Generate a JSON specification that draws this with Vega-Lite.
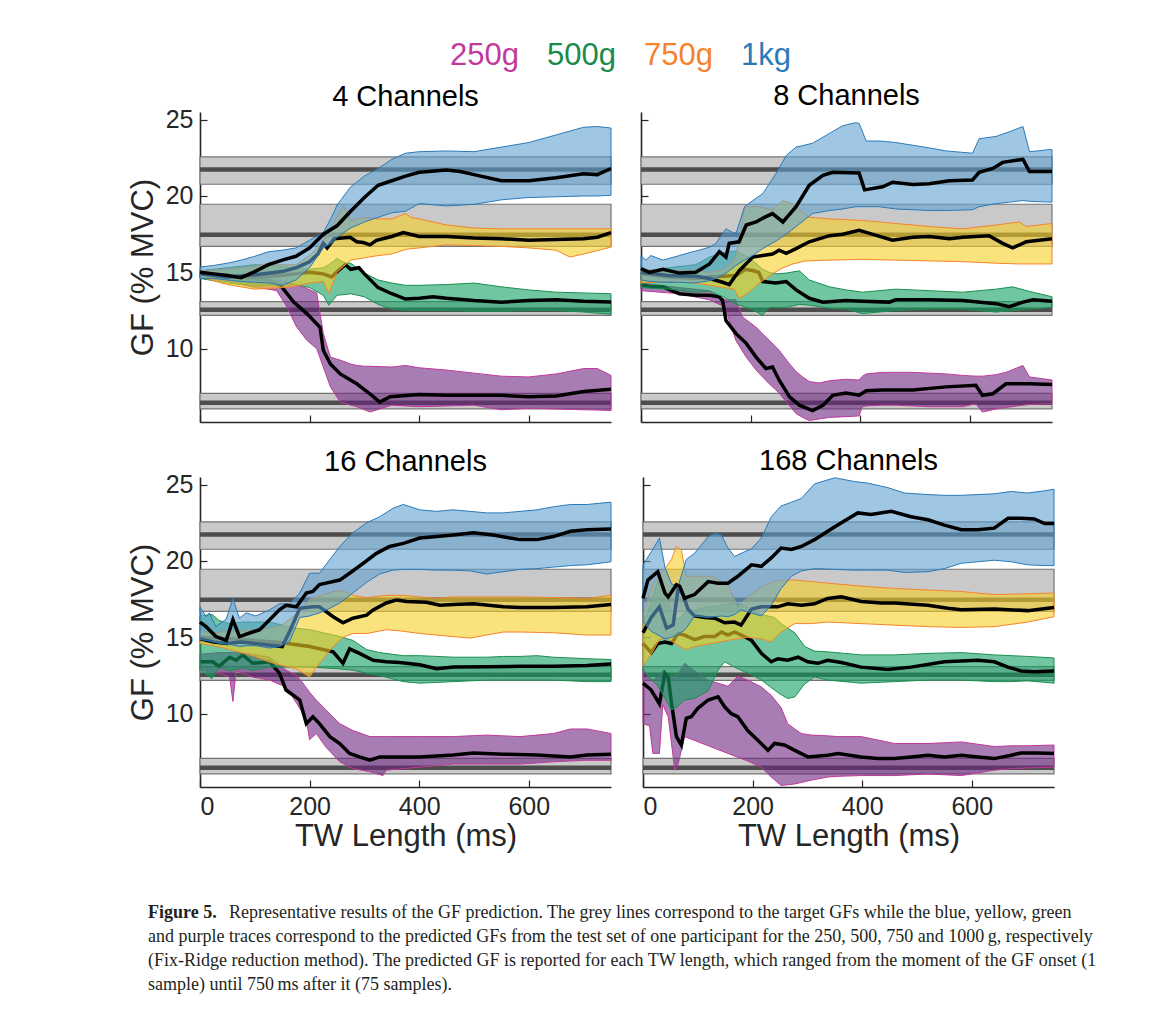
{
"$schema": "https://vega.github.io/schema/vega-lite/v6.json",
"background": "white",
"padding": {"left": 127, "top": 38, "right": 5, "bottom": 5},
"datasets": {
"tgt": [
{"w":"250g","l":6.06,"m":6.46,"h":7.08},
{"w":"500g","l":12.18,"m":12.55,"h":13.08},
{"w":"750g","l":16.7,"m":17.47,"h":19.46},
{"w":"1kg","l":20.77,"m":21.73,"h":22.56}
],
"band": [
{"p":"c4","w":"1kg","t":0,"l":14.6,"h":15.35},{"p":"c4","w":"1kg","t":25,"l":14.6,"h":15.45},{"p":"c4","w":"1kg","t":50,"l":14.5,"h":15.6},{"p":"c4","w":"1kg","t":75,"l":14.4,"h":15.8},{"p":"c4","w":"1kg","t":100,"l":14.35,"h":16.05},{"p":"c4","w":"1kg","t":125,"l":14.3,"h":16.35},{"p":"c4","w":"1kg","t":150,"l":14.15,"h":16.45},{"p":"c4","w":"1kg","t":175,"l":14.5,"h":16.6},{"p":"c4","w":"1kg","t":200,"l":15.3,"h":17.1},{"p":"c4","w":"1kg","t":225,"l":16.6,"h":17.6},{"p":"c4","w":"1kg","t":240,"l":16.9,"h":18.6},{"p":"c4","w":"1kg","t":250,"l":17.3,"h":19.4},{"p":"c4","w":"1kg","t":275,"l":17.9,"h":20.6},{"p":"c4","w":"1kg","t":300,"l":18.3,"h":21.3},{"p":"c4","w":"1kg","t":325,"l":18.6,"h":21.8},{"p":"c4","w":"1kg","t":350,"l":18.9,"h":22.4},{"p":"c4","w":"1kg","t":375,"l":19.0,"h":22.8},{"p":"c4","w":"1kg","t":400,"l":19.5,"h":22.9},{"p":"c4","w":"1kg","t":450,"l":19.35,"h":22.95},{"p":"c4","w":"1kg","t":500,"l":19.45,"h":22.9},{"p":"c4","w":"1kg","t":550,"l":19.75,"h":23.2},{"p":"c4","w":"1kg","t":600,"l":19.9,"h":23.5},{"p":"c4","w":"1kg","t":650,"l":19.95,"h":24.0},{"p":"c4","w":"1kg","t":700,"l":20.0,"h":24.5},{"p":"c4","w":"1kg","t":725,"l":20.0,"h":24.55},{"p":"c4","w":"1kg","t":750,"l":20.05,"h":24.45},
{"p":"c4","w":"750g","t":0,"l":14.7,"h":15.1},{"p":"c4","w":"750g","t":50,"l":14.2,"h":15.2},{"p":"c4","w":"750g","t":100,"l":13.9,"h":15.4},{"p":"c4","w":"750g","t":125,"l":13.95,"h":15.6},{"p":"c4","w":"750g","t":150,"l":14.0,"h":15.5},{"p":"c4","w":"750g","t":175,"l":14.1,"h":15.5},{"p":"c4","w":"750g","t":200,"l":14.3,"h":16.1},{"p":"c4","w":"750g","t":225,"l":14.4,"h":17.0},{"p":"c4","w":"750g","t":235,"l":13.6,"h":17.7},{"p":"c4","w":"750g","t":250,"l":15.0,"h":18.6},{"p":"c4","w":"750g","t":262,"l":15.4,"h":19.3},{"p":"c4","w":"750g","t":275,"l":15.8,"h":18.4},{"p":"c4","w":"750g","t":300,"l":15.95,"h":18.6},{"p":"c4","w":"750g","t":325,"l":16.1,"h":18.5},{"p":"c4","w":"750g","t":350,"l":16.2,"h":18.5},{"p":"c4","w":"750g","t":375,"l":16.5,"h":18.85},{"p":"c4","w":"750g","t":385,"l":16.55,"h":18.6},{"p":"c4","w":"750g","t":400,"l":16.6,"h":18.5},{"p":"c4","w":"750g","t":450,"l":16.8,"h":18.1},{"p":"c4","w":"750g","t":500,"l":16.75,"h":17.9},{"p":"c4","w":"750g","t":550,"l":16.7,"h":17.85},{"p":"c4","w":"750g","t":600,"l":16.6,"h":17.85},{"p":"c4","w":"750g","t":650,"l":16.45,"h":17.85},{"p":"c4","w":"750g","t":675,"l":16.0,"h":17.85},{"p":"c4","w":"750g","t":700,"l":16.2,"h":17.85},{"p":"c4","w":"750g","t":750,"l":16.65,"h":17.85},
{"p":"c4","w":"500g","t":0,"l":14.6,"h":15.1},{"p":"c4","w":"500g","t":50,"l":14.3,"h":15.3},{"p":"c4","w":"500g","t":100,"l":14.1,"h":15.5},{"p":"c4","w":"500g","t":150,"l":14.2,"h":15.4},{"p":"c4","w":"500g","t":175,"l":14.2,"h":15.3},{"p":"c4","w":"500g","t":200,"l":14.0,"h":15.2},{"p":"c4","w":"500g","t":225,"l":13.5,"h":15.3},{"p":"c4","w":"500g","t":235,"l":12.85,"h":15.5},{"p":"c4","w":"500g","t":250,"l":13.5,"h":15.9},{"p":"c4","w":"500g","t":265,"l":13.55,"h":15.6},{"p":"c4","w":"500g","t":275,"l":13.6,"h":15.6},{"p":"c4","w":"500g","t":300,"l":13.4,"h":14.95},{"p":"c4","w":"500g","t":325,"l":12.9,"h":14.5},{"p":"c4","w":"500g","t":350,"l":12.6,"h":14.3},{"p":"c4","w":"500g","t":375,"l":12.5,"h":14.15},{"p":"c4","w":"500g","t":400,"l":12.5,"h":14.15},{"p":"c4","w":"500g","t":450,"l":12.5,"h":14.2},{"p":"c4","w":"500g","t":500,"l":12.45,"h":14.3},{"p":"c4","w":"500g","t":550,"l":12.45,"h":14.05},{"p":"c4","w":"500g","t":600,"l":12.5,"h":13.85},{"p":"c4","w":"500g","t":650,"l":12.5,"h":13.7},{"p":"c4","w":"500g","t":700,"l":12.4,"h":13.65},{"p":"c4","w":"500g","t":750,"l":12.25,"h":13.6},
{"p":"c4","w":"250g","t":0,"l":14.7,"h":15.0},{"p":"c4","w":"250g","t":50,"l":14.4,"h":14.8},{"p":"c4","w":"250g","t":100,"l":14.0,"h":14.6},{"p":"c4","w":"250g","t":125,"l":13.9,"h":14.55},{"p":"c4","w":"250g","t":140,"l":13.8,"h":14.5},{"p":"c4","w":"250g","t":160,"l":12.65,"h":14.35},{"p":"c4","w":"250g","t":175,"l":11.5,"h":14.2},{"p":"c4","w":"250g","t":195,"l":10.55,"h":13.95},{"p":"c4","w":"250g","t":213,"l":10.0,"h":13.65},{"p":"c4","w":"250g","t":225,"l":8.8,"h":11.0},{"p":"c4","w":"250g","t":238,"l":7.5,"h":9.45},{"p":"c4","w":"250g","t":256,"l":6.5,"h":9.25},{"p":"c4","w":"250g","t":275,"l":6.3,"h":9.0},{"p":"c4","w":"250g","t":286,"l":6.2,"h":8.9},{"p":"c4","w":"250g","t":300,"l":6.0,"h":8.85},{"p":"c4","w":"250g","t":310,"l":5.85,"h":8.85},{"p":"c4","w":"250g","t":350,"l":6.3,"h":8.8},{"p":"c4","w":"250g","t":375,"l":6.25,"h":8.9},{"p":"c4","w":"250g","t":400,"l":6.2,"h":8.75},{"p":"c4","w":"250g","t":450,"l":6.25,"h":8.6},{"p":"c4","w":"250g","t":500,"l":6.3,"h":8.4},{"p":"c4","w":"250g","t":550,"l":6.0,"h":8.2},{"p":"c4","w":"250g","t":600,"l":6.1,"h":8.15},{"p":"c4","w":"250g","t":650,"l":6.05,"h":8.35},{"p":"c4","w":"250g","t":700,"l":6.0,"h":8.7},{"p":"c4","w":"250g","t":725,"l":5.98,"h":8.7},{"p":"c4","w":"250g","t":750,"l":5.95,"h":8.25},
{"p":"c8","w":"1kg","t":0,"l":14.5,"h":16.1},{"p":"c8","w":"1kg","t":9,"l":14.45,"h":15.8},{"p":"c8","w":"1kg","t":18,"l":14.4,"h":16.1},{"p":"c8","w":"1kg","t":40,"l":14.35,"h":15.8},{"p":"c8","w":"1kg","t":70,"l":14.35,"h":16.1},{"p":"c8","w":"1kg","t":94,"l":14.3,"h":16.35},{"p":"c8","w":"1kg","t":106,"l":14.35,"h":16.45},{"p":"c8","w":"1kg","t":125,"l":14.45,"h":16.65},{"p":"c8","w":"1kg","t":137,"l":14.6,"h":16.9},{"p":"c8","w":"1kg","t":155,"l":14.95,"h":17.85},{"p":"c8","w":"1kg","t":173,"l":15.45,"h":17.5},{"p":"c8","w":"1kg","t":189,"l":15.8,"h":19.3},{"p":"c8","w":"1kg","t":204,"l":16.1,"h":19.7},{"p":"c8","w":"1kg","t":222,"l":16.55,"h":20.15},{"p":"c8","w":"1kg","t":246,"l":17.05,"h":21.45},{"p":"c8","w":"1kg","t":265,"l":17.5,"h":22.65},{"p":"c8","w":"1kg","t":283,"l":18.0,"h":23.2},{"p":"c8","w":"1kg","t":313,"l":18.85,"h":23.45},{"p":"c8","w":"1kg","t":344,"l":19.05,"h":24.1},{"p":"c8","w":"1kg","t":368,"l":19.15,"h":24.6},{"p":"c8","w":"1kg","t":392,"l":19.3,"h":24.8},{"p":"c8","w":"1kg","t":398,"l":19.3,"h":24.75},{"p":"c8","w":"1kg","t":411,"l":19.3,"h":23.6},{"p":"c8","w":"1kg","t":435,"l":19.3,"h":23.6},{"p":"c8","w":"1kg","t":465,"l":19.15,"h":23.5},{"p":"c8","w":"1kg","t":526,"l":19.05,"h":23.15},{"p":"c8","w":"1kg","t":557,"l":19.05,"h":22.95},{"p":"c8","w":"1kg","t":605,"l":19.1,"h":22.8},{"p":"c8","w":"1kg","t":617,"l":19.3,"h":23.75},{"p":"c8","w":"1kg","t":648,"l":19.5,"h":23.9},{"p":"c8","w":"1kg","t":672,"l":19.6,"h":24.2},{"p":"c8","w":"1kg","t":697,"l":19.7,"h":24.55},{"p":"c8","w":"1kg","t":709,"l":19.65,"h":22.9},{"p":"c8","w":"1kg","t":750,"l":19.6,"h":23.05},
{"p":"c8","w":"750g","t":0,"l":14.3,"h":15.2},{"p":"c8","w":"750g","t":50,"l":14.4,"h":15.1},{"p":"c8","w":"750g","t":100,"l":14.3,"h":15.1},{"p":"c8","w":"750g","t":125,"l":14.15,"h":15.0},{"p":"c8","w":"750g","t":150,"l":14.0,"h":15.2},{"p":"c8","w":"750g","t":170,"l":13.9,"h":15.8},{"p":"c8","w":"750g","t":179,"l":13.3,"h":16.9},{"p":"c8","w":"750g","t":189,"l":13.5,"h":19.3},{"p":"c8","w":"750g","t":200,"l":13.8,"h":19.3},{"p":"c8","w":"750g","t":216,"l":14.3,"h":19.3},{"p":"c8","w":"750g","t":240,"l":14.9,"h":19.1},{"p":"c8","w":"750g","t":259,"l":15.3,"h":19.7},{"p":"c8","w":"750g","t":277,"l":15.55,"h":19.5},{"p":"c8","w":"750g","t":300,"l":15.75,"h":18.8},{"p":"c8","w":"750g","t":307,"l":15.75,"h":18.6},{"p":"c8","w":"750g","t":344,"l":15.8,"h":18.5},{"p":"c8","w":"750g","t":404,"l":15.85,"h":18.4},{"p":"c8","w":"750g","t":465,"l":15.8,"h":18.2},{"p":"c8","w":"750g","t":526,"l":15.75,"h":18.0},{"p":"c8","w":"750g","t":587,"l":15.7,"h":17.85},{"p":"c8","w":"750g","t":648,"l":15.6,"h":18.1},{"p":"c8","w":"750g","t":690,"l":15.55,"h":18.3},{"p":"c8","w":"750g","t":703,"l":15.55,"h":18.0},{"p":"c8","w":"750g","t":750,"l":15.55,"h":18.2},
{"p":"c8","w":"500g","t":0,"l":14.0,"h":15.0},{"p":"c8","w":"500g","t":50,"l":13.9,"h":15.3},{"p":"c8","w":"500g","t":100,"l":13.7,"h":15.5},{"p":"c8","w":"500g","t":125,"l":13.75,"h":16.0},{"p":"c8","w":"500g","t":150,"l":13.4,"h":16.3},{"p":"c8","w":"500g","t":175,"l":12.9,"h":16.4},{"p":"c8","w":"500g","t":200,"l":12.6,"h":15.9},{"p":"c8","w":"500g","t":222,"l":12.2,"h":15.2},{"p":"c8","w":"500g","t":234,"l":12.7,"h":15.0},{"p":"c8","w":"500g","t":246,"l":12.7,"h":14.9},{"p":"c8","w":"500g","t":265,"l":12.7,"h":14.95},{"p":"c8","w":"500g","t":289,"l":12.9,"h":15.1},{"p":"c8","w":"500g","t":307,"l":12.85,"h":14.5},{"p":"c8","w":"500g","t":344,"l":12.65,"h":14.05},{"p":"c8","w":"500g","t":374,"l":12.6,"h":13.85},{"p":"c8","w":"500g","t":404,"l":12.3,"h":13.7},{"p":"c8","w":"500g","t":465,"l":12.5,"h":13.9},{"p":"c8","w":"500g","t":526,"l":12.6,"h":13.8},{"p":"c8","w":"500g","t":587,"l":12.6,"h":13.7},{"p":"c8","w":"500g","t":648,"l":12.4,"h":13.9},{"p":"c8","w":"500g","t":678,"l":12.5,"h":14.05},{"p":"c8","w":"500g","t":709,"l":12.6,"h":13.75},{"p":"c8","w":"500g","t":750,"l":12.7,"h":13.4},
{"p":"c8","w":"250g","t":0,"l":13.8,"h":14.3},{"p":"c8","w":"250g","t":70,"l":13.6,"h":14.0},{"p":"c8","w":"250g","t":125,"l":13.2,"h":13.8},{"p":"c8","w":"250g","t":149,"l":12.8,"h":13.3},{"p":"c8","w":"250g","t":155,"l":12.5,"h":13.2},{"p":"c8","w":"250g","t":173,"l":10.55,"h":13.2},{"p":"c8","w":"250g","t":185,"l":9.85,"h":12.1},{"p":"c8","w":"250g","t":192,"l":9.45,"h":11.9},{"p":"c8","w":"250g","t":210,"l":8.6,"h":11.4},{"p":"c8","w":"250g","t":234,"l":7.7,"h":10.55},{"p":"c8","w":"250g","t":252,"l":7.1,"h":9.9},{"p":"c8","w":"250g","t":270,"l":6.3,"h":9.05},{"p":"c8","w":"250g","t":283,"l":5.75,"h":8.5},{"p":"c8","w":"250g","t":295,"l":5.5,"h":8.15},{"p":"c8","w":"250g","t":307,"l":5.3,"h":7.85},{"p":"c8","w":"250g","t":325,"l":5.4,"h":7.75},{"p":"c8","w":"250g","t":344,"l":5.5,"h":7.9},{"p":"c8","w":"250g","t":374,"l":5.55,"h":8.0},{"p":"c8","w":"250g","t":398,"l":5.6,"h":7.95},{"p":"c8","w":"250g","t":404,"l":6.2,"h":8.2},{"p":"c8","w":"250g","t":411,"l":6.25,"h":8.35},{"p":"c8","w":"250g","t":441,"l":6.3,"h":8.45},{"p":"c8","w":"250g","t":465,"l":6.3,"h":8.45},{"p":"c8","w":"250g","t":496,"l":6.25,"h":8.45},{"p":"c8","w":"250g","t":526,"l":6.2,"h":8.4},{"p":"c8","w":"250g","t":557,"l":6.2,"h":8.35},{"p":"c8","w":"250g","t":587,"l":6.2,"h":8.25},{"p":"c8","w":"250g","t":611,"l":6.4,"h":8.2},{"p":"c8","w":"250g","t":623,"l":5.85,"h":8.2},{"p":"c8","w":"250g","t":648,"l":6.05,"h":8.3},{"p":"c8","w":"250g","t":666,"l":6.15,"h":8.45},{"p":"c8","w":"250g","t":697,"l":6.3,"h":8.9},{"p":"c8","w":"250g","t":709,"l":6.35,"h":8.15},{"p":"c8","w":"250g","t":750,"l":6.4,"h":7.95},
{"p":"c16","w":"1kg","t":0,"l":14.85,"h":17.0},{"p":"c16","w":"1kg","t":11,"l":14.8,"h":16.35},{"p":"c16","w":"1kg","t":17,"l":14.75,"h":16.6},{"p":"c16","w":"1kg","t":29,"l":14.65,"h":15.7},{"p":"c16","w":"1kg","t":48,"l":14.55,"h":16.2},{"p":"c16","w":"1kg","t":60,"l":14.5,"h":17.55},{"p":"c16","w":"1kg","t":72,"l":14.4,"h":16.25},{"p":"c16","w":"1kg","t":84,"l":14.45,"h":16.6},{"p":"c16","w":"1kg","t":102,"l":14.45,"h":16.4},{"p":"c16","w":"1kg","t":127,"l":14.3,"h":16.8},{"p":"c16","w":"1kg","t":145,"l":14.4,"h":17.2},{"p":"c16","w":"1kg","t":163,"l":14.7,"h":17.2},{"p":"c16","w":"1kg","t":182,"l":16.3,"h":17.9},{"p":"c16","w":"1kg","t":200,"l":16.4,"h":19.2},{"p":"c16","w":"1kg","t":218,"l":16.6,"h":19.2},{"p":"c16","w":"1kg","t":237,"l":16.9,"h":20.1},{"p":"c16","w":"1kg","t":255,"l":17.25,"h":20.95},{"p":"c16","w":"1kg","t":279,"l":17.9,"h":21.85},{"p":"c16","w":"1kg","t":304,"l":18.6,"h":22.5},{"p":"c16","w":"1kg","t":328,"l":19.15,"h":22.9},{"p":"c16","w":"1kg","t":352,"l":19.4,"h":23.45},{"p":"c16","w":"1kg","t":371,"l":19.45,"h":23.7},{"p":"c16","w":"1kg","t":401,"l":19.45,"h":23.35},{"p":"c16","w":"1kg","t":432,"l":19.4,"h":23.25},{"p":"c16","w":"1kg","t":462,"l":19.4,"h":23.35},{"p":"c16","w":"1kg","t":493,"l":19.35,"h":23.25},{"p":"c16","w":"1kg","t":523,"l":19.15,"h":23.15},{"p":"c16","w":"1kg","t":554,"l":19.3,"h":23.15},{"p":"c16","w":"1kg","t":584,"l":19.45,"h":23.25},{"p":"c16","w":"1kg","t":615,"l":19.5,"h":23.35},{"p":"c16","w":"1kg","t":645,"l":19.6,"h":23.55},{"p":"c16","w":"1kg","t":676,"l":19.7,"h":23.7},{"p":"c16","w":"1kg","t":706,"l":19.75,"h":23.7},{"p":"c16","w":"1kg","t":750,"l":19.95,"h":23.85},
{"p":"c16","w":"750g","t":0,"l":14.6,"h":15.4},{"p":"c16","w":"750g","t":25,"l":14.45,"h":15.3},{"p":"c16","w":"750g","t":50,"l":14.25,"h":15.4},{"p":"c16","w":"750g","t":75,"l":14.0,"h":15.4},{"p":"c16","w":"750g","t":100,"l":13.75,"h":15.5},{"p":"c16","w":"750g","t":125,"l":13.4,"h":15.6},{"p":"c16","w":"750g","t":150,"l":13.15,"h":15.8},{"p":"c16","w":"750g","t":175,"l":12.95,"h":16.5},{"p":"c16","w":"750g","t":200,"l":12.4,"h":17.5},{"p":"c16","w":"750g","t":218,"l":13.3,"h":17.7},{"p":"c16","w":"750g","t":243,"l":14.4,"h":18.0},{"p":"c16","w":"750g","t":261,"l":15.0,"h":18.05},{"p":"c16","w":"750g","t":279,"l":15.25,"h":17.75},{"p":"c16","w":"750g","t":304,"l":15.25,"h":17.6},{"p":"c16","w":"750g","t":340,"l":15.5,"h":17.75},{"p":"c16","w":"750g","t":371,"l":15.4,"h":17.75},{"p":"c16","w":"750g","t":401,"l":15.25,"h":17.65},{"p":"c16","w":"750g","t":432,"l":15.15,"h":17.55},{"p":"c16","w":"750g","t":462,"l":15.05,"h":17.65},{"p":"c16","w":"750g","t":493,"l":14.95,"h":17.65},{"p":"c16","w":"750g","t":523,"l":15.15,"h":17.65},{"p":"c16","w":"750g","t":554,"l":15.35,"h":17.65},{"p":"c16","w":"750g","t":584,"l":15.35,"h":17.65},{"p":"c16","w":"750g","t":645,"l":15.3,"h":17.6},{"p":"c16","w":"750g","t":706,"l":15.15,"h":17.55},{"p":"c16","w":"750g","t":750,"l":15.15,"h":17.75},
{"p":"c16","w":"500g","t":0,"l":12.85,"h":16.4},{"p":"c16","w":"500g","t":22,"l":12.3,"h":16.5},{"p":"c16","w":"500g","t":35,"l":13.05,"h":16.1},{"p":"c16","w":"500g","t":54,"l":12.8,"h":15.9},{"p":"c16","w":"500g","t":78,"l":13.0,"h":16.0},{"p":"c16","w":"500g","t":96,"l":12.85,"h":16.0},{"p":"c16","w":"500g","t":127,"l":13.05,"h":16.0},{"p":"c16","w":"500g","t":157,"l":13.05,"h":15.75},{"p":"c16","w":"500g","t":175,"l":13.05,"h":15.6},{"p":"c16","w":"500g","t":200,"l":13.05,"h":15.5},{"p":"c16","w":"500g","t":225,"l":13.0,"h":15.3},{"p":"c16","w":"500g","t":250,"l":12.95,"h":15.1},{"p":"c16","w":"500g","t":279,"l":12.85,"h":14.8},{"p":"c16","w":"500g","t":304,"l":12.65,"h":14.2},{"p":"c16","w":"500g","t":328,"l":12.5,"h":14.0},{"p":"c16","w":"500g","t":371,"l":12.1,"h":13.8},{"p":"c16","w":"500g","t":401,"l":12.0,"h":13.8},{"p":"c16","w":"500g","t":432,"l":12.05,"h":13.75},{"p":"c16","w":"500g","t":462,"l":12.1,"h":13.7},{"p":"c16","w":"500g","t":493,"l":12.15,"h":13.7},{"p":"c16","w":"500g","t":523,"l":12.2,"h":13.7},{"p":"c16","w":"500g","t":554,"l":12.2,"h":13.75},{"p":"c16","w":"500g","t":584,"l":12.2,"h":13.75},{"p":"c16","w":"500g","t":615,"l":12.2,"h":13.8},{"p":"c16","w":"500g","t":645,"l":12.2,"h":13.7},{"p":"c16","w":"500g","t":676,"l":12.15,"h":13.65},{"p":"c16","w":"500g","t":706,"l":12.1,"h":13.6},{"p":"c16","w":"500g","t":750,"l":12.1,"h":13.55},
{"p":"c16","w":"250g","t":0,"l":12.85,"h":13.9},{"p":"c16","w":"250g","t":35,"l":12.65,"h":14.0},{"p":"c16","w":"250g","t":54,"l":12.4,"h":14.0},{"p":"c16","w":"250g","t":60,"l":10.8,"h":14.0},{"p":"c16","w":"250g","t":66,"l":12.8,"h":14.0},{"p":"c16","w":"250g","t":96,"l":12.4,"h":13.9},{"p":"c16","w":"250g","t":127,"l":12.2,"h":13.7},{"p":"c16","w":"250g","t":157,"l":11.75,"h":12.85},{"p":"c16","w":"250g","t":176,"l":10.7,"h":12.5},{"p":"c16","w":"250g","t":188,"l":10.0,"h":12.0},{"p":"c16","w":"250g","t":194,"l":9.6,"h":11.7},{"p":"c16","w":"250g","t":200,"l":8.3,"h":11.4},{"p":"c16","w":"250g","t":212,"l":8.7,"h":10.9},{"p":"c16","w":"250g","t":230,"l":7.8,"h":10.25},{"p":"c16","w":"250g","t":255,"l":6.85,"h":9.35},{"p":"c16","w":"250g","t":279,"l":6.4,"h":8.9},{"p":"c16","w":"250g","t":310,"l":6.2,"h":8.5},{"p":"c16","w":"250g","t":334,"l":5.95,"h":8.5},{"p":"c16","w":"250g","t":340,"l":6.3,"h":8.5},{"p":"c16","w":"250g","t":401,"l":6.5,"h":8.5},{"p":"c16","w":"250g","t":462,"l":6.7,"h":8.5},{"p":"c16","w":"250g","t":523,"l":6.7,"h":8.6},{"p":"c16","w":"250g","t":584,"l":6.7,"h":8.5},{"p":"c16","w":"250g","t":645,"l":6.85,"h":8.7},{"p":"c16","w":"250g","t":676,"l":6.9,"h":9.0},{"p":"c16","w":"250g","t":706,"l":6.95,"h":9.0},{"p":"c16","w":"250g","t":750,"l":6.95,"h":8.7},
{"p":"c168","w":"1kg","t":0,"l":16.0,"h":19.75},{"p":"c168","w":"1kg","t":15,"l":15.4,"h":20.6},{"p":"c168","w":"1kg","t":30,"l":15.1,"h":21.5},{"p":"c168","w":"1kg","t":40,"l":14.9,"h":19.6},{"p":"c168","w":"1kg","t":52,"l":15.0,"h":18.5},{"p":"c168","w":"1kg","t":64,"l":15.2,"h":18.35},{"p":"c168","w":"1kg","t":73,"l":15.4,"h":19.4},{"p":"c168","w":"1kg","t":79,"l":15.6,"h":20.1},{"p":"c168","w":"1kg","t":94,"l":16.4,"h":20.5},{"p":"c168","w":"1kg","t":119,"l":16.3,"h":21.6},{"p":"c168","w":"1kg","t":131,"l":16.35,"h":21.8},{"p":"c168","w":"1kg","t":143,"l":16.4,"h":21.7},{"p":"c168","w":"1kg","t":155,"l":16.35,"h":20.85},{"p":"c168","w":"1kg","t":167,"l":16.5,"h":20.3},{"p":"c168","w":"1kg","t":179,"l":16.8,"h":20.5},{"p":"c168","w":"1kg","t":198,"l":16.6,"h":20.8},{"p":"c168","w":"1kg","t":216,"l":16.4,"h":21.5},{"p":"c168","w":"1kg","t":234,"l":17.1,"h":22.9},{"p":"c168","w":"1kg","t":252,"l":18.2,"h":23.6},{"p":"c168","w":"1kg","t":271,"l":19.0,"h":23.85},{"p":"c168","w":"1kg","t":289,"l":19.35,"h":24.1},{"p":"c168","w":"1kg","t":313,"l":19.5,"h":25.05},{"p":"c168","w":"1kg","t":350,"l":19.45,"h":25.45},{"p":"c168","w":"1kg","t":386,"l":19.4,"h":25.2},{"p":"c168","w":"1kg","t":410,"l":19.4,"h":25.1},{"p":"c168","w":"1kg","t":447,"l":19.4,"h":24.8},{"p":"c168","w":"1kg","t":477,"l":19.25,"h":24.45},{"p":"c168","w":"1kg","t":520,"l":19.3,"h":24.35},{"p":"c168","w":"1kg","t":550,"l":19.5,"h":24.3},{"p":"c168","w":"1kg","t":581,"l":19.85,"h":24.3},{"p":"c168","w":"1kg","t":611,"l":19.95,"h":24.35},{"p":"c168","w":"1kg","t":641,"l":20.05,"h":24.4},{"p":"c168","w":"1kg","t":672,"l":19.95,"h":24.55},{"p":"c168","w":"1kg","t":702,"l":19.75,"h":24.45},{"p":"c168","w":"1kg","t":733,"l":19.7,"h":24.6},{"p":"c168","w":"1kg","t":750,"l":19.7,"h":24.7},
{"p":"c168","w":"750g","t":0,"l":13.1,"h":16.6},{"p":"c168","w":"750g","t":15,"l":13.9,"h":18.3},{"p":"c168","w":"750g","t":30,"l":14.85,"h":19.1},{"p":"c168","w":"750g","t":40,"l":15.0,"h":19.5},{"p":"c168","w":"750g","t":52,"l":14.75,"h":20.1},{"p":"c168","w":"750g","t":61,"l":14.55,"h":20.95},{"p":"c168","w":"750g","t":70,"l":14.35,"h":20.7},{"p":"c168","w":"750g","t":79,"l":14.2,"h":19.0},{"p":"c168","w":"750g","t":94,"l":14.4,"h":19.0},{"p":"c168","w":"750g","t":125,"l":14.6,"h":19.0},{"p":"c168","w":"750g","t":155,"l":14.8,"h":18.45},{"p":"c168","w":"750g","t":173,"l":14.9,"h":17.0},{"p":"c168","w":"750g","t":191,"l":15.0,"h":17.65},{"p":"c168","w":"750g","t":216,"l":14.9,"h":18.3},{"p":"c168","w":"750g","t":234,"l":14.7,"h":18.6},{"p":"c168","w":"750g","t":252,"l":15.35,"h":18.75},{"p":"c168","w":"750g","t":277,"l":15.9,"h":18.75},{"p":"c168","w":"750g","t":307,"l":15.9,"h":18.65},{"p":"c168","w":"750g","t":337,"l":16.0,"h":18.55},{"p":"c168","w":"750g","t":368,"l":15.95,"h":18.45},{"p":"c168","w":"750g","t":398,"l":15.9,"h":18.35},{"p":"c168","w":"750g","t":459,"l":15.8,"h":18.2},{"p":"c168","w":"750g","t":520,"l":15.7,"h":18.1},{"p":"c168","w":"750g","t":581,"l":15.65,"h":18.0},{"p":"c168","w":"750g","t":641,"l":15.7,"h":17.8},{"p":"c168","w":"750g","t":702,"l":16.0,"h":17.85},{"p":"c168","w":"750g","t":750,"l":16.35,"h":17.9},
{"p":"c168","w":"500g","t":0,"l":12.85,"h":16.0},{"p":"c168","w":"500g","t":15,"l":12.2,"h":17.2},{"p":"c168","w":"500g","t":27,"l":11.85,"h":18.7},{"p":"c168","w":"500g","t":40,"l":11.0,"h":18.0},{"p":"c168","w":"500g","t":52,"l":10.25,"h":16.6},{"p":"c168","w":"500g","t":64,"l":10.5,"h":16.2},{"p":"c168","w":"500g","t":76,"l":10.9,"h":16.6},{"p":"c168","w":"500g","t":94,"l":11.0,"h":16.8},{"p":"c168","w":"500g","t":119,"l":11.5,"h":17.0},{"p":"c168","w":"500g","t":137,"l":12.85,"h":17.05},{"p":"c168","w":"500g","t":149,"l":13.4,"h":17.15},{"p":"c168","w":"500g","t":167,"l":13.05,"h":17.25},{"p":"c168","w":"500g","t":185,"l":12.75,"h":17.1},{"p":"c168","w":"500g","t":198,"l":12.55,"h":16.8},{"p":"c168","w":"500g","t":216,"l":12.2,"h":16.5},{"p":"c168","w":"500g","t":240,"l":11.55,"h":16.3},{"p":"c168","w":"500g","t":252,"l":11.25,"h":15.9},{"p":"c168","w":"500g","t":264,"l":11.0,"h":15.6},{"p":"c168","w":"500g","t":277,"l":11.1,"h":15.3},{"p":"c168","w":"500g","t":295,"l":11.95,"h":14.4},{"p":"c168","w":"500g","t":313,"l":12.4,"h":14.1},{"p":"c168","w":"500g","t":337,"l":12.2,"h":14.05},{"p":"c168","w":"500g","t":368,"l":12.1,"h":13.95},{"p":"c168","w":"500g","t":398,"l":12.0,"h":13.85},{"p":"c168","w":"500g","t":459,"l":12.1,"h":13.85},{"p":"c168","w":"500g","t":520,"l":12.2,"h":13.95},{"p":"c168","w":"500g","t":581,"l":12.2,"h":14.0},{"p":"c168","w":"500g","t":641,"l":12.1,"h":13.85},{"p":"c168","w":"500g","t":672,"l":12.1,"h":13.8},{"p":"c168","w":"500g","t":702,"l":12.15,"h":13.75},{"p":"c168","w":"500g","t":750,"l":12.0,"h":13.65},
{"p":"c168","w":"250g","t":0,"l":9.35,"h":12.9},{"p":"c168","w":"250g","t":12,"l":9.2,"h":12.3},{"p":"c168","w":"250g","t":18,"l":7.4,"h":12.2},{"p":"c168","w":"250g","t":30,"l":7.4,"h":12.5},{"p":"c168","w":"250g","t":36,"l":10.6,"h":12.8},{"p":"c168","w":"250g","t":46,"l":9.8,"h":12.5},{"p":"c168","w":"250g","t":58,"l":6.3,"h":12.3},{"p":"c168","w":"250g","t":64,"l":6.7,"h":12.6},{"p":"c168","w":"250g","t":76,"l":8.5,"h":13.3},{"p":"c168","w":"250g","t":94,"l":8.25,"h":12.8},{"p":"c168","w":"250g","t":119,"l":7.9,"h":12.2},{"p":"c168","w":"250g","t":137,"l":7.65,"h":12.0},{"p":"c168","w":"250g","t":155,"l":7.4,"h":11.8},{"p":"c168","w":"250g","t":173,"l":7.15,"h":12.45},{"p":"c168","w":"250g","t":191,"l":6.9,"h":12.2},{"p":"c168","w":"250g","t":216,"l":6.5,"h":11.75},{"p":"c168","w":"250g","t":234,"l":5.85,"h":11.2},{"p":"c168","w":"250g","t":252,"l":5.3,"h":10.4},{"p":"c168","w":"250g","t":264,"l":5.35,"h":9.35},{"p":"c168","w":"250g","t":277,"l":5.4,"h":9.0},{"p":"c168","w":"250g","t":289,"l":5.5,"h":8.7},{"p":"c168","w":"250g","t":307,"l":5.65,"h":8.6},{"p":"c168","w":"250g","t":337,"l":5.85,"h":8.55},{"p":"c168","w":"250g","t":356,"l":5.9,"h":8.5},{"p":"c168","w":"250g","t":398,"l":5.95,"h":8.5},{"p":"c168","w":"250g","t":459,"l":5.95,"h":8.05},{"p":"c168","w":"250g","t":520,"l":6.05,"h":8.05},{"p":"c168","w":"250g","t":581,"l":5.95,"h":8.15},{"p":"c168","w":"250g","t":641,"l":6.3,"h":7.85},{"p":"c168","w":"250g","t":672,"l":6.4,"h":7.9},{"p":"c168","w":"250g","t":702,"l":6.45,"h":7.9},{"p":"c168","w":"250g","t":750,"l":6.5,"h":7.95}
],
"mean": [
{"p":"c4","w":"1kg","t":0,"m":15.0},{"p":"c4","w":"1kg","t":25,"m":14.9},{"p":"c4","w":"1kg","t":50,"m":14.8},{"p":"c4","w":"1kg","t":75,"m":14.65},{"p":"c4","w":"1kg","t":100,"m":15.05},{"p":"c4","w":"1kg","t":125,"m":15.5},{"p":"c4","w":"1kg","t":150,"m":15.8},{"p":"c4","w":"1kg","t":175,"m":16.05},{"p":"c4","w":"1kg","t":200,"m":16.6},{"p":"c4","w":"1kg","t":225,"m":17.5},{"p":"c4","w":"1kg","t":250,"m":18.05},{"p":"c4","w":"1kg","t":275,"m":19.0},{"p":"c4","w":"1kg","t":300,"m":19.9},{"p":"c4","w":"1kg","t":325,"m":20.7},{"p":"c4","w":"1kg","t":350,"m":21.0},{"p":"c4","w":"1kg","t":375,"m":21.3},{"p":"c4","w":"1kg","t":400,"m":21.55},{"p":"c4","w":"1kg","t":450,"m":21.7},{"p":"c4","w":"1kg","t":475,"m":21.6},{"p":"c4","w":"1kg","t":500,"m":21.4},{"p":"c4","w":"1kg","t":550,"m":21.0},{"p":"c4","w":"1kg","t":600,"m":21.0},{"p":"c4","w":"1kg","t":650,"m":21.2},{"p":"c4","w":"1kg","t":700,"m":21.45},{"p":"c4","w":"1kg","t":725,"m":21.4},{"p":"c4","w":"1kg","t":750,"m":21.8},
{"p":"c4","w":"750g","t":0,"m":14.9},{"p":"c4","w":"750g","t":50,"m":14.7},{"p":"c4","w":"750g","t":100,"m":14.85},{"p":"c4","w":"750g","t":150,"m":15.05},{"p":"c4","w":"750g","t":175,"m":15.3},{"p":"c4","w":"750g","t":200,"m":15.7},{"p":"c4","w":"750g","t":215,"m":16.2},{"p":"c4","w":"750g","t":225,"m":16.9},{"p":"c4","w":"750g","t":232,"m":16.6},{"p":"c4","w":"750g","t":245,"m":17.2},{"p":"c4","w":"750g","t":274,"m":17.3},{"p":"c4","w":"750g","t":286,"m":17.0},{"p":"c4","w":"750g","t":298,"m":16.95},{"p":"c4","w":"750g","t":310,"m":16.8},{"p":"c4","w":"750g","t":322,"m":17.1},{"p":"c4","w":"750g","t":350,"m":17.35},{"p":"c4","w":"750g","t":371,"m":17.6},{"p":"c4","w":"750g","t":400,"m":17.35},{"p":"c4","w":"750g","t":450,"m":17.35},{"p":"c4","w":"750g","t":500,"m":17.25},{"p":"c4","w":"750g","t":550,"m":17.2},{"p":"c4","w":"750g","t":600,"m":17.1},{"p":"c4","w":"750g","t":650,"m":17.15},{"p":"c4","w":"750g","t":700,"m":17.2},{"p":"c4","w":"750g","t":725,"m":17.3},{"p":"c4","w":"750g","t":750,"m":17.6},
{"p":"c4","w":"500g","t":0,"m":14.9},{"p":"c4","w":"500g","t":50,"m":14.7},{"p":"c4","w":"500g","t":100,"m":14.7},{"p":"c4","w":"500g","t":150,"m":14.8},{"p":"c4","w":"500g","t":175,"m":14.9},{"p":"c4","w":"500g","t":200,"m":15.0},{"p":"c4","w":"500g","t":225,"m":14.9},{"p":"c4","w":"500g","t":240,"m":14.7},{"p":"c4","w":"500g","t":255,"m":15.2},{"p":"c4","w":"500g","t":265,"m":15.5},{"p":"c4","w":"500g","t":275,"m":15.2},{"p":"c4","w":"500g","t":290,"m":15.3},{"p":"c4","w":"500g","t":300,"m":14.9},{"p":"c4","w":"500g","t":325,"m":14.0},{"p":"c4","w":"500g","t":350,"m":13.6},{"p":"c4","w":"500g","t":375,"m":13.25},{"p":"c4","w":"500g","t":400,"m":13.3},{"p":"c4","w":"500g","t":425,"m":13.4},{"p":"c4","w":"500g","t":450,"m":13.3},{"p":"c4","w":"500g","t":500,"m":13.15},{"p":"c4","w":"500g","t":550,"m":13.05},{"p":"c4","w":"500g","t":600,"m":13.15},{"p":"c4","w":"500g","t":650,"m":13.2},{"p":"c4","w":"500g","t":700,"m":13.1},{"p":"c4","w":"500g","t":750,"m":13.05},
{"p":"c4","w":"250g","t":0,"m":14.9},{"p":"c4","w":"250g","t":50,"m":14.8},{"p":"c4","w":"250g","t":100,"m":14.6},{"p":"c4","w":"250g","t":125,"m":14.5},{"p":"c4","w":"250g","t":147,"m":14.15},{"p":"c4","w":"250g","t":171,"m":13.06},{"p":"c4","w":"250g","t":195,"m":12.3},{"p":"c4","w":"250g","t":219,"m":11.4},{"p":"c4","w":"250g","t":225,"m":9.9},{"p":"c4","w":"250g","t":238,"m":9.0},{"p":"c4","w":"250g","t":256,"m":8.35},{"p":"c4","w":"250g","t":286,"m":7.7},{"p":"c4","w":"250g","t":310,"m":7.05},{"p":"c4","w":"250g","t":328,"m":6.5},{"p":"c4","w":"250g","t":347,"m":6.85},{"p":"c4","w":"250g","t":400,"m":7.0},{"p":"c4","w":"250g","t":450,"m":6.95},{"p":"c4","w":"250g","t":500,"m":6.95},{"p":"c4","w":"250g","t":550,"m":6.95},{"p":"c4","w":"250g","t":600,"m":6.85},{"p":"c4","w":"250g","t":650,"m":6.9},{"p":"c4","w":"250g","t":700,"m":7.2},{"p":"c4","w":"250g","t":750,"m":7.35},
{"p":"c8","w":"1kg","t":0,"m":15.25},{"p":"c8","w":"1kg","t":15,"m":15.0},{"p":"c8","w":"1kg","t":40,"m":15.2},{"p":"c8","w":"1kg","t":70,"m":14.95},{"p":"c8","w":"1kg","t":100,"m":15.0},{"p":"c8","w":"1kg","t":125,"m":15.55},{"p":"c8","w":"1kg","t":143,"m":16.35},{"p":"c8","w":"1kg","t":155,"m":16.0},{"p":"c8","w":"1kg","t":161,"m":16.9},{"p":"c8","w":"1kg","t":179,"m":17.0},{"p":"c8","w":"1kg","t":192,"m":18.1},{"p":"c8","w":"1kg","t":210,"m":18.3},{"p":"c8","w":"1kg","t":225,"m":18.6},{"p":"c8","w":"1kg","t":240,"m":18.85},{"p":"c8","w":"1kg","t":259,"m":18.3},{"p":"c8","w":"1kg","t":283,"m":19.3},{"p":"c8","w":"1kg","t":307,"m":20.7},{"p":"c8","w":"1kg","t":332,"m":21.35},{"p":"c8","w":"1kg","t":350,"m":21.55},{"p":"c8","w":"1kg","t":398,"m":21.5},{"p":"c8","w":"1kg","t":408,"m":20.4},{"p":"c8","w":"1kg","t":441,"m":20.6},{"p":"c8","w":"1kg","t":459,"m":20.9},{"p":"c8","w":"1kg","t":496,"m":20.75},{"p":"c8","w":"1kg","t":526,"m":20.8},{"p":"c8","w":"1kg","t":563,"m":21.0},{"p":"c8","w":"1kg","t":605,"m":21.05},{"p":"c8","w":"1kg","t":617,"m":21.55},{"p":"c8","w":"1kg","t":642,"m":21.8},{"p":"c8","w":"1kg","t":660,"m":22.2},{"p":"c8","w":"1kg","t":697,"m":22.4},{"p":"c8","w":"1kg","t":709,"m":21.6},{"p":"c8","w":"1kg","t":750,"m":21.6},
{"p":"c8","w":"750g","t":0,"m":15.0},{"p":"c8","w":"750g","t":50,"m":14.8},{"p":"c8","w":"750g","t":100,"m":14.75},{"p":"c8","w":"750g","t":125,"m":14.6},{"p":"c8","w":"750g","t":149,"m":14.35},{"p":"c8","w":"750g","t":161,"m":14.2},{"p":"c8","w":"750g","t":179,"m":15.1},{"p":"c8","w":"750g","t":204,"m":16.0},{"p":"c8","w":"750g","t":222,"m":16.1},{"p":"c8","w":"750g","t":240,"m":16.2},{"p":"c8","w":"750g","t":252,"m":16.45},{"p":"c8","w":"750g","t":265,"m":16.25},{"p":"c8","w":"750g","t":283,"m":16.55},{"p":"c8","w":"750g","t":307,"m":17.0},{"p":"c8","w":"750g","t":344,"m":17.4},{"p":"c8","w":"750g","t":368,"m":17.5},{"p":"c8","w":"750g","t":398,"m":17.75},{"p":"c8","w":"750g","t":417,"m":17.55},{"p":"c8","w":"750g","t":459,"m":17.1},{"p":"c8","w":"750g","t":496,"m":17.3},{"p":"c8","w":"750g","t":526,"m":17.35},{"p":"c8","w":"750g","t":563,"m":17.2},{"p":"c8","w":"750g","t":587,"m":17.3},{"p":"c8","w":"750g","t":635,"m":17.4},{"p":"c8","w":"750g","t":660,"m":16.9},{"p":"c8","w":"750g","t":678,"m":16.6},{"p":"c8","w":"750g","t":703,"m":17.0},{"p":"c8","w":"750g","t":750,"m":17.2},
{"p":"c8","w":"500g","t":0,"m":14.9},{"p":"c8","w":"500g","t":50,"m":14.7},{"p":"c8","w":"500g","t":100,"m":14.6},{"p":"c8","w":"500g","t":125,"m":14.7},{"p":"c8","w":"500g","t":150,"m":14.75},{"p":"c8","w":"500g","t":175,"m":14.8},{"p":"c8","w":"500g","t":190,"m":15.2},{"p":"c8","w":"500g","t":205,"m":15.1},{"p":"c8","w":"500g","t":215,"m":15.0},{"p":"c8","w":"500g","t":222,"m":14.4},{"p":"c8","w":"500g","t":246,"m":14.3},{"p":"c8","w":"500g","t":265,"m":14.4},{"p":"c8","w":"500g","t":283,"m":13.85},{"p":"c8","w":"500g","t":307,"m":13.3},{"p":"c8","w":"500g","t":332,"m":13.05},{"p":"c8","w":"500g","t":374,"m":13.15},{"p":"c8","w":"500g","t":404,"m":13.1},{"p":"c8","w":"500g","t":453,"m":13.05},{"p":"c8","w":"500g","t":465,"m":13.2},{"p":"c8","w":"500g","t":526,"m":13.2},{"p":"c8","w":"500g","t":587,"m":13.15},{"p":"c8","w":"500g","t":648,"m":12.95},{"p":"c8","w":"500g","t":672,"m":12.75},{"p":"c8","w":"500g","t":697,"m":13.05},{"p":"c8","w":"500g","t":715,"m":13.2},{"p":"c8","w":"500g","t":750,"m":13.1},
{"p":"c8","w":"250g","t":0,"m":14.2},{"p":"c8","w":"250g","t":21,"m":14.05},{"p":"c8","w":"250g","t":40,"m":14.05},{"p":"c8","w":"250g","t":70,"m":13.6},{"p":"c8","w":"250g","t":100,"m":13.5},{"p":"c8","w":"250g","t":125,"m":13.5},{"p":"c8","w":"250g","t":143,"m":13.4},{"p":"c8","w":"250g","t":149,"m":13.15},{"p":"c8","w":"250g","t":155,"m":11.85},{"p":"c8","w":"250g","t":173,"m":11.0},{"p":"c8","w":"250g","t":192,"m":10.35},{"p":"c8","w":"250g","t":210,"m":9.45},{"p":"c8","w":"250g","t":228,"m":8.7},{"p":"c8","w":"250g","t":240,"m":8.8},{"p":"c8","w":"250g","t":252,"m":7.95},{"p":"c8","w":"250g","t":271,"m":6.85},{"p":"c8","w":"250g","t":289,"m":6.3},{"p":"c8","w":"250g","t":313,"m":5.95},{"p":"c8","w":"250g","t":332,"m":6.3},{"p":"c8","w":"250g","t":350,"m":6.95},{"p":"c8","w":"250g","t":374,"m":7.1},{"p":"c8","w":"250g","t":398,"m":6.95},{"p":"c8","w":"250g","t":411,"m":7.25},{"p":"c8","w":"250g","t":441,"m":7.3},{"p":"c8","w":"250g","t":496,"m":7.3},{"p":"c8","w":"250g","t":557,"m":7.5},{"p":"c8","w":"250g","t":611,"m":7.6},{"p":"c8","w":"250g","t":623,"m":6.95},{"p":"c8","w":"250g","t":642,"m":7.05},{"p":"c8","w":"250g","t":666,"m":7.7},{"p":"c8","w":"250g","t":709,"m":7.7},{"p":"c8","w":"250g","t":750,"m":7.65},
{"p":"c16","w":"1kg","t":0,"m":16.0},{"p":"c16","w":"1kg","t":11,"m":15.7},{"p":"c16","w":"1kg","t":29,"m":15.05},{"p":"c16","w":"1kg","t":48,"m":14.8},{"p":"c16","w":"1kg","t":60,"m":16.15},{"p":"c16","w":"1kg","t":72,"m":15.05},{"p":"c16","w":"1kg","t":96,"m":15.35},{"p":"c16","w":"1kg","t":109,"m":15.5},{"p":"c16","w":"1kg","t":127,"m":16.15},{"p":"c16","w":"1kg","t":145,"m":16.8},{"p":"c16","w":"1kg","t":157,"m":17.1},{"p":"c16","w":"1kg","t":176,"m":17.0},{"p":"c16","w":"1kg","t":194,"m":17.9},{"p":"c16","w":"1kg","t":206,"m":18.0},{"p":"c16","w":"1kg","t":218,"m":18.45},{"p":"c16","w":"1kg","t":230,"m":18.55},{"p":"c16","w":"1kg","t":255,"m":18.75},{"p":"c16","w":"1kg","t":273,"m":19.2},{"p":"c16","w":"1kg","t":298,"m":19.85},{"p":"c16","w":"1kg","t":322,"m":20.5},{"p":"c16","w":"1kg","t":346,"m":20.95},{"p":"c16","w":"1kg","t":371,"m":21.15},{"p":"c16","w":"1kg","t":401,"m":21.5},{"p":"c16","w":"1kg","t":432,"m":21.6},{"p":"c16","w":"1kg","t":462,"m":21.7},{"p":"c16","w":"1kg","t":499,"m":21.85},{"p":"c16","w":"1kg","t":535,"m":21.7},{"p":"c16","w":"1kg","t":566,"m":21.5},{"p":"c16","w":"1kg","t":584,"m":21.4},{"p":"c16","w":"1kg","t":615,"m":21.4},{"p":"c16","w":"1kg","t":645,"m":21.6},{"p":"c16","w":"1kg","t":676,"m":21.95},{"p":"c16","w":"1kg","t":706,"m":22.05},{"p":"c16","w":"1kg","t":750,"m":22.1},
{"p":"c16","w":"750g","t":0,"m":14.9},{"p":"c16","w":"750g","t":25,"m":14.7},{"p":"c16","w":"750g","t":50,"m":14.6},{"p":"c16","w":"750g","t":75,"m":14.7},{"p":"c16","w":"750g","t":100,"m":14.6},{"p":"c16","w":"750g","t":125,"m":14.5},{"p":"c16","w":"750g","t":150,"m":14.4},{"p":"c16","w":"750g","t":165,"m":15.5},{"p":"c16","w":"750g","t":182,"m":16.9},{"p":"c16","w":"750g","t":206,"m":17.0},{"p":"c16","w":"750g","t":218,"m":17.0},{"p":"c16","w":"750g","t":243,"m":16.35},{"p":"c16","w":"750g","t":261,"m":15.95},{"p":"c16","w":"750g","t":279,"m":16.25},{"p":"c16","w":"750g","t":304,"m":16.45},{"p":"c16","w":"750g","t":316,"m":16.8},{"p":"c16","w":"750g","t":340,"m":17.25},{"p":"c16","w":"750g","t":359,"m":17.45},{"p":"c16","w":"750g","t":377,"m":17.35},{"p":"c16","w":"750g","t":413,"m":17.3},{"p":"c16","w":"750g","t":438,"m":17.1},{"p":"c16","w":"750g","t":462,"m":17.15},{"p":"c16","w":"750g","t":499,"m":17.2},{"p":"c16","w":"750g","t":554,"m":17.0},{"p":"c16","w":"750g","t":584,"m":16.95},{"p":"c16","w":"750g","t":645,"m":16.95},{"p":"c16","w":"750g","t":706,"m":17.0},{"p":"c16","w":"750g","t":750,"m":17.15},
{"p":"c16","w":"500g","t":0,"m":15.0},{"p":"c16","w":"500g","t":50,"m":14.9},{"p":"c16","w":"500g","t":100,"m":14.8},{"p":"c16","w":"500g","t":150,"m":14.65},{"p":"c16","w":"500g","t":200,"m":14.4},{"p":"c16","w":"500g","t":243,"m":14.05},{"p":"c16","w":"500g","t":261,"m":13.3},{"p":"c16","w":"500g","t":273,"m":14.25},{"p":"c16","w":"500g","t":291,"m":13.95},{"p":"c16","w":"500g","t":316,"m":13.5},{"p":"c16","w":"500g","t":340,"m":13.4},{"p":"c16","w":"500g","t":364,"m":13.35},{"p":"c16","w":"500g","t":401,"m":13.2},{"p":"c16","w":"500g","t":432,"m":12.95},{"p":"c16","w":"500g","t":462,"m":13.05},{"p":"c16","w":"500g","t":523,"m":13.07},{"p":"c16","w":"500g","t":584,"m":13.1},{"p":"c16","w":"500g","t":645,"m":13.1},{"p":"c16","w":"500g","t":706,"m":13.15},{"p":"c16","w":"500g","t":750,"m":13.25},
{"p":"c16","w":"250g","t":0,"m":13.4},{"p":"c16","w":"250g","t":23,"m":13.4},{"p":"c16","w":"250g","t":35,"m":13.1},{"p":"c16","w":"250g","t":54,"m":13.7},{"p":"c16","w":"250g","t":66,"m":13.5},{"p":"c16","w":"250g","t":78,"m":13.85},{"p":"c16","w":"250g","t":96,"m":13.3},{"p":"c16","w":"250g","t":127,"m":13.4},{"p":"c16","w":"250g","t":145,"m":12.65},{"p":"c16","w":"250g","t":157,"m":11.55},{"p":"c16","w":"250g","t":182,"m":10.9},{"p":"c16","w":"250g","t":194,"m":9.35},{"p":"c16","w":"250g","t":206,"m":9.8},{"p":"c16","w":"250g","t":218,"m":9.35},{"p":"c16","w":"250g","t":237,"m":8.5},{"p":"c16","w":"250g","t":255,"m":8.05},{"p":"c16","w":"250g","t":273,"m":7.4},{"p":"c16","w":"250g","t":291,"m":7.17},{"p":"c16","w":"250g","t":310,"m":6.95},{"p":"c16","w":"250g","t":328,"m":7.17},{"p":"c16","w":"250g","t":364,"m":7.17},{"p":"c16","w":"250g","t":401,"m":7.17},{"p":"c16","w":"250g","t":462,"m":7.3},{"p":"c16","w":"250g","t":499,"m":7.43},{"p":"c16","w":"250g","t":554,"m":7.35},{"p":"c16","w":"250g","t":615,"m":7.3},{"p":"c16","w":"250g","t":676,"m":7.17},{"p":"c16","w":"250g","t":706,"m":7.3},{"p":"c16","w":"250g","t":750,"m":7.35},
{"p":"c168","w":"1kg","t":0,"m":17.55},{"p":"c168","w":"1kg","t":9,"m":18.75},{"p":"c168","w":"1kg","t":27,"m":19.3},{"p":"c168","w":"1kg","t":40,"m":17.9},{"p":"c168","w":"1kg","t":46,"m":17.65},{"p":"c168","w":"1kg","t":61,"m":18.45},{"p":"c168","w":"1kg","t":67,"m":18.35},{"p":"c168","w":"1kg","t":76,"m":17.55},{"p":"c168","w":"1kg","t":82,"m":17.65},{"p":"c168","w":"1kg","t":94,"m":17.8},{"p":"c168","w":"1kg","t":119,"m":18.65},{"p":"c168","w":"1kg","t":137,"m":18.55},{"p":"c168","w":"1kg","t":155,"m":18.55},{"p":"c168","w":"1kg","t":173,"m":19.0},{"p":"c168","w":"1kg","t":198,"m":19.75},{"p":"c168","w":"1kg","t":216,"m":19.65},{"p":"c168","w":"1kg","t":234,"m":20.2},{"p":"c168","w":"1kg","t":252,"m":20.85},{"p":"c168","w":"1kg","t":271,"m":20.75},{"p":"c168","w":"1kg","t":289,"m":20.95},{"p":"c168","w":"1kg","t":313,"m":21.4},{"p":"c168","w":"1kg","t":337,"m":21.95},{"p":"c168","w":"1kg","t":362,"m":22.5},{"p":"c168","w":"1kg","t":392,"m":23.15},{"p":"c168","w":"1kg","t":416,"m":23.05},{"p":"c168","w":"1kg","t":453,"m":23.25},{"p":"c168","w":"1kg","t":489,"m":22.9},{"p":"c168","w":"1kg","t":520,"m":22.7},{"p":"c168","w":"1kg","t":550,"m":22.35},{"p":"c168","w":"1kg","t":581,"m":22.05},{"p":"c168","w":"1kg","t":611,"m":22.05},{"p":"c168","w":"1kg","t":641,"m":22.15},{"p":"c168","w":"1kg","t":666,"m":22.8},{"p":"c168","w":"1kg","t":690,"m":22.8},{"p":"c168","w":"1kg","t":714,"m":22.75},{"p":"c168","w":"1kg","t":733,"m":22.45},{"p":"c168","w":"1kg","t":750,"m":22.45},
{"p":"c168","w":"750g","t":0,"m":15.3},{"p":"c168","w":"750g","t":15,"m":16.3},{"p":"c168","w":"750g","t":30,"m":17.0},{"p":"c168","w":"750g","t":43,"m":15.6},{"p":"c168","w":"750g","t":55,"m":15.8},{"p":"c168","w":"750g","t":64,"m":18.2},{"p":"c168","w":"750g","t":73,"m":17.8},{"p":"c168","w":"750g","t":82,"m":16.85},{"p":"c168","w":"750g","t":94,"m":16.4},{"p":"c168","w":"750g","t":113,"m":16.3},{"p":"c168","w":"750g","t":131,"m":16.25},{"p":"c168","w":"750g","t":149,"m":15.95},{"p":"c168","w":"750g","t":167,"m":16.0},{"p":"c168","w":"750g","t":179,"m":15.8},{"p":"c168","w":"750g","t":198,"m":16.85},{"p":"c168","w":"750g","t":216,"m":17.0},{"p":"c168","w":"750g","t":246,"m":17.0},{"p":"c168","w":"750g","t":264,"m":17.2},{"p":"c168","w":"750g","t":289,"m":17.1},{"p":"c168","w":"750g","t":313,"m":17.2},{"p":"c168","w":"750g","t":337,"m":17.55},{"p":"c168","w":"750g","t":362,"m":17.65},{"p":"c168","w":"750g","t":398,"m":17.35},{"p":"c168","w":"750g","t":435,"m":17.25},{"p":"c168","w":"750g","t":459,"m":17.25},{"p":"c168","w":"750g","t":520,"m":17.1},{"p":"c168","w":"750g","t":556,"m":16.9},{"p":"c168","w":"750g","t":581,"m":16.8},{"p":"c168","w":"750g","t":641,"m":16.85},{"p":"c168","w":"750g","t":702,"m":16.75},{"p":"c168","w":"750g","t":750,"m":16.95},
{"p":"c168","w":"500g","t":0,"m":14.6},{"p":"c168","w":"500g","t":15,"m":14.0},{"p":"c168","w":"500g","t":27,"m":14.6},{"p":"c168","w":"500g","t":40,"m":14.7},{"p":"c168","w":"500g","t":52,"m":14.6},{"p":"c168","w":"500g","t":64,"m":15.25},{"p":"c168","w":"500g","t":76,"m":15.15},{"p":"c168","w":"500g","t":94,"m":14.85},{"p":"c168","w":"500g","t":112,"m":15.05},{"p":"c168","w":"500g","t":131,"m":15.05},{"p":"c168","w":"500g","t":143,"m":15.35},{"p":"c168","w":"500g","t":155,"m":15.15},{"p":"c168","w":"500g","t":167,"m":15.35},{"p":"c168","w":"500g","t":185,"m":15.05},{"p":"c168","w":"500g","t":198,"m":14.8},{"p":"c168","w":"500g","t":216,"m":13.95},{"p":"c168","w":"500g","t":234,"m":13.4},{"p":"c168","w":"500g","t":246,"m":13.6},{"p":"c168","w":"500g","t":264,"m":13.5},{"p":"c168","w":"500g","t":283,"m":13.7},{"p":"c168","w":"500g","t":301,"m":13.4},{"p":"c168","w":"500g","t":319,"m":13.3},{"p":"c168","w":"500g","t":337,"m":13.5},{"p":"c168","w":"500g","t":362,"m":13.35},{"p":"c168","w":"500g","t":398,"m":13.05},{"p":"c168","w":"500g","t":447,"m":12.9},{"p":"c168","w":"500g","t":489,"m":13.05},{"p":"c168","w":"500g","t":550,"m":13.4},{"p":"c168","w":"500g","t":611,"m":13.5},{"p":"c168","w":"500g","t":641,"m":13.4},{"p":"c168","w":"500g","t":666,"m":13.05},{"p":"c168","w":"500g","t":690,"m":12.8},{"p":"c168","w":"500g","t":714,"m":12.75},{"p":"c168","w":"500g","t":750,"m":12.8},
{"p":"c168","w":"250g","t":0,"m":12.0},{"p":"c168","w":"250g","t":15,"m":11.55},{"p":"c168","w":"250g","t":30,"m":10.65},{"p":"c168","w":"250g","t":40,"m":12.65},{"p":"c168","w":"250g","t":46,"m":12.4},{"p":"c168","w":"250g","t":52,"m":10.7},{"p":"c168","w":"250g","t":61,"m":8.5},{"p":"c168","w":"250g","t":70,"m":7.95},{"p":"c168","w":"250g","t":79,"m":9.7},{"p":"c168","w":"250g","t":88,"m":9.8},{"p":"c168","w":"250g","t":100,"m":10.35},{"p":"c168","w":"250g","t":119,"m":10.9},{"p":"c168","w":"250g","t":137,"m":11.1},{"p":"c168","w":"250g","t":149,"m":10.45},{"p":"c168","w":"250g","t":161,"m":10.0},{"p":"c168","w":"250g","t":173,"m":9.8},{"p":"c168","w":"250g","t":191,"m":8.9},{"p":"c168","w":"250g","t":210,"m":8.25},{"p":"c168","w":"250g","t":228,"m":7.6},{"p":"c168","w":"250g","t":240,"m":8.05},{"p":"c168","w":"250g","t":258,"m":7.95},{"p":"c168","w":"250g","t":277,"m":7.6},{"p":"c168","w":"250g","t":301,"m":7.17},{"p":"c168","w":"250g","t":337,"m":7.28},{"p":"c168","w":"250g","t":356,"m":7.4},{"p":"c168","w":"250g","t":398,"m":7.17},{"p":"c168","w":"250g","t":429,"m":7.06},{"p":"c168","w":"250g","t":459,"m":7.06},{"p":"c168","w":"250g","t":489,"m":7.17},{"p":"c168","w":"250g","t":520,"m":7.28},{"p":"c168","w":"250g","t":550,"m":7.17},{"p":"c168","w":"250g","t":581,"m":7.28},{"p":"c168","w":"250g","t":611,"m":7.17},{"p":"c168","w":"250g","t":641,"m":7.06},{"p":"c168","w":"250g","t":672,"m":7.28},{"p":"c168","w":"250g","t":690,"m":7.43},{"p":"c168","w":"250g","t":720,"m":7.43},{"p":"c168","w":"250g","t":750,"m":7.4}
]
},
"vconcat": [
{"vconcat": [
{"width": 855, "height": 36,
 "data": {"values": [{"w":"250g"},{"w":"500g"},{"w":"750g"},{"w":"1kg"}]},
 "mark": {"type":"text","align":"left","baseline":"middle","fontSize":31,"font":"Liberation Sans"},
 "encoding": {
  "x": {"field":"w","type":"ordinal","scale":{"type":"point","domain":["250g","500g","750g","1kg"],"range":[250,541],"padding":0},"axis":null},
  "text": {"field":"w"},
  "color": {"field":"w","type":"nominal","scale":{"domain":["250g","500g","750g","1kg"],"range":["#c2399b","#1b8a4b","#f5822a","#2a7ab8"]},"legend":null}
 }},
{"vconcat": [
{"hconcat": [
{"width":411,"height":310,"title":{"text":"4 Channels","offset":-4},
 "layer":[
  {"data":{"name":"tgt"},"mark":{"type":"rect","fill":"#c9c9c9","stroke":"#747474","strokeWidth":1.2},"encoding":{"y":{"field":"l","type":"quantitative","scale":{"domain":[5.2,25.5],"nice":false,"zero":false},"axis":{"title":"GF (% MVC)","values":[10,15,20,25]}},"y2":{"field":"h"}}},
  {"data":{"name":"tgt"},"mark":{"type":"rule","color":"#4d4d4d","strokeWidth":4.5},"encoding":{"y":{"field":"m","type":"quantitative"}}},
  {"data":{"name":"band"},"transform":[{"filter":"datum.p=='c4'&&datum.w=='250g'"}],"mark":{"type":"area","fill":"#6e2682","fillOpacity":0.6,"stroke":"#c2399b","strokeWidth":1},"encoding":{"x":{"field":"t","type":"quantitative","scale":{"domain":[0,750],"nice":false},"axis":{"title":null,"labels":false,"values":[0,200,400,600]}},"y":{"field":"l","type":"quantitative"},"y2":{"field":"h"}}},
  {"data":{"name":"mean"},"transform":[{"filter":"datum.p=='c4'&&datum.w=='250g'"}],"mark":{"type":"line","color":"black","strokeWidth":3.5},"encoding":{"x":{"field":"t","type":"quantitative"},"y":{"field":"m","type":"quantitative"}}},
  {"data":{"name":"band"},"transform":[{"filter":"datum.p=='c4'&&datum.w=='500g'"}],"mark":{"type":"area","fill":"#11a061","fillOpacity":0.6,"stroke":"#1b8f4f","strokeWidth":1},"encoding":{"x":{"field":"t","type":"quantitative"},"y":{"field":"l","type":"quantitative"},"y2":{"field":"h"}}},
  {"data":{"name":"mean"},"transform":[{"filter":"datum.p=='c4'&&datum.w=='500g'"}],"mark":{"type":"line","color":"black","strokeWidth":3.5},"encoding":{"x":{"field":"t","type":"quantitative"},"y":{"field":"m","type":"quantitative"}}},
  {"data":{"name":"band"},"transform":[{"filter":"datum.p=='c4'&&datum.w=='750g'"}],"mark":{"type":"area","fill":"#f7cf25","fillOpacity":0.6,"stroke":"#f5852a","strokeWidth":1},"encoding":{"x":{"field":"t","type":"quantitative"},"y":{"field":"l","type":"quantitative"},"y2":{"field":"h"}}},
  {"data":{"name":"mean"},"transform":[{"filter":"datum.p=='c4'&&datum.w=='750g'"}],"mark":{"type":"line","color":"black","strokeWidth":3.5},"encoding":{"x":{"field":"t","type":"quantitative"},"y":{"field":"m","type":"quantitative"}}},
  {"data":{"name":"band"},"transform":[{"filter":"datum.p=='c4'&&datum.w=='1kg'"}],"mark":{"type":"area","fill":"#5fa2d2","fillOpacity":0.6,"stroke":"#2a7ab8","strokeWidth":1},"encoding":{"x":{"field":"t","type":"quantitative"},"y":{"field":"l","type":"quantitative"},"y2":{"field":"h"}}},
  {"data":{"name":"mean"},"transform":[{"filter":"datum.p=='c4'&&datum.w=='1kg'"}],"mark":{"type":"line","color":"black","strokeWidth":3.5},"encoding":{"x":{"field":"t","type":"quantitative"},"y":{"field":"m","type":"quantitative"}}}
 ]},
{"width":411,"height":310,"title":{"text":"8 Channels","offset":1},
 "layer":[
  {"data":{"name":"tgt"},"mark":{"type":"rect","fill":"#c9c9c9","stroke":"#747474","strokeWidth":1.2},"encoding":{"y":{"field":"l","type":"quantitative","scale":{"domain":[5.2,25.5],"nice":false,"zero":false},"axis":{"title":null,"labels":false,"values":[10,15,20,25]}},"y2":{"field":"h"}}},
  {"data":{"name":"tgt"},"mark":{"type":"rule","color":"#4d4d4d","strokeWidth":4.5},"encoding":{"y":{"field":"m","type":"quantitative"}}},
  {"data":{"name":"band"},"transform":[{"filter":"datum.p=='c8'&&datum.w=='250g'"}],"mark":{"type":"area","fill":"#6e2682","fillOpacity":0.6,"stroke":"#c2399b","strokeWidth":1},"encoding":{"x":{"field":"t","type":"quantitative","scale":{"domain":[0,750],"nice":false},"axis":{"title":null,"labels":false,"values":[0,200,400,600]}},"y":{"field":"l","type":"quantitative"},"y2":{"field":"h"}}},
  {"data":{"name":"mean"},"transform":[{"filter":"datum.p=='c8'&&datum.w=='250g'"}],"mark":{"type":"line","color":"black","strokeWidth":3.5},"encoding":{"x":{"field":"t","type":"quantitative"},"y":{"field":"m","type":"quantitative"}}},
  {"data":{"name":"band"},"transform":[{"filter":"datum.p=='c8'&&datum.w=='500g'"}],"mark":{"type":"area","fill":"#11a061","fillOpacity":0.6,"stroke":"#1b8f4f","strokeWidth":1},"encoding":{"x":{"field":"t","type":"quantitative"},"y":{"field":"l","type":"quantitative"},"y2":{"field":"h"}}},
  {"data":{"name":"mean"},"transform":[{"filter":"datum.p=='c8'&&datum.w=='500g'"}],"mark":{"type":"line","color":"black","strokeWidth":3.5},"encoding":{"x":{"field":"t","type":"quantitative"},"y":{"field":"m","type":"quantitative"}}},
  {"data":{"name":"band"},"transform":[{"filter":"datum.p=='c8'&&datum.w=='750g'"}],"mark":{"type":"area","fill":"#f7cf25","fillOpacity":0.6,"stroke":"#f5852a","strokeWidth":1},"encoding":{"x":{"field":"t","type":"quantitative"},"y":{"field":"l","type":"quantitative"},"y2":{"field":"h"}}},
  {"data":{"name":"mean"},"transform":[{"filter":"datum.p=='c8'&&datum.w=='750g'"}],"mark":{"type":"line","color":"black","strokeWidth":3.5},"encoding":{"x":{"field":"t","type":"quantitative"},"y":{"field":"m","type":"quantitative"}}},
  {"data":{"name":"band"},"transform":[{"filter":"datum.p=='c8'&&datum.w=='1kg'"}],"mark":{"type":"area","fill":"#5fa2d2","fillOpacity":0.6,"stroke":"#2a7ab8","strokeWidth":1},"encoding":{"x":{"field":"t","type":"quantitative"},"y":{"field":"l","type":"quantitative"},"y2":{"field":"h"}}},
  {"data":{"name":"mean"},"transform":[{"filter":"datum.p=='c8'&&datum.w=='1kg'"}],"mark":{"type":"line","color":"black","strokeWidth":3.5},"encoding":{"x":{"field":"t","type":"quantitative"},"y":{"field":"m","type":"quantitative"}}}
 ]}
], "spacing": 16},
{"hconcat": [
{"width":411,"height":310,"title":{"text":"16 Channels","offset":-4},
 "layer":[
  {"data":{"name":"tgt"},"mark":{"type":"rect","fill":"#c9c9c9","stroke":"#747474","strokeWidth":1.2},"encoding":{"y":{"field":"l","type":"quantitative","scale":{"domain":[5.2,25.5],"nice":false,"zero":false},"axis":{"title":"GF (% MVC)","values":[10,15,20,25]}},"y2":{"field":"h"}}},
  {"data":{"name":"tgt"},"mark":{"type":"rule","color":"#4d4d4d","strokeWidth":4.5},"encoding":{"y":{"field":"m","type":"quantitative"}}},
  {"data":{"name":"band"},"transform":[{"filter":"datum.p=='c16'&&datum.w=='250g'"}],"mark":{"type":"area","fill":"#6e2682","fillOpacity":0.6,"stroke":"#c2399b","strokeWidth":1},"encoding":{"x":{"field":"t","type":"quantitative","scale":{"domain":[0,750],"nice":false},"axis":{"title":"TW Length (ms)","values":[0,200,400,600]}},"y":{"field":"l","type":"quantitative"},"y2":{"field":"h"}}},
  {"data":{"name":"mean"},"transform":[{"filter":"datum.p=='c16'&&datum.w=='250g'"}],"mark":{"type":"line","color":"black","strokeWidth":3.5},"encoding":{"x":{"field":"t","type":"quantitative"},"y":{"field":"m","type":"quantitative"}}},
  {"data":{"name":"band"},"transform":[{"filter":"datum.p=='c16'&&datum.w=='500g'"}],"mark":{"type":"area","fill":"#11a061","fillOpacity":0.6,"stroke":"#1b8f4f","strokeWidth":1},"encoding":{"x":{"field":"t","type":"quantitative"},"y":{"field":"l","type":"quantitative"},"y2":{"field":"h"}}},
  {"data":{"name":"mean"},"transform":[{"filter":"datum.p=='c16'&&datum.w=='500g'"}],"mark":{"type":"line","color":"black","strokeWidth":3.5},"encoding":{"x":{"field":"t","type":"quantitative"},"y":{"field":"m","type":"quantitative"}}},
  {"data":{"name":"band"},"transform":[{"filter":"datum.p=='c16'&&datum.w=='750g'"}],"mark":{"type":"area","fill":"#f7cf25","fillOpacity":0.6,"stroke":"#f5852a","strokeWidth":1},"encoding":{"x":{"field":"t","type":"quantitative"},"y":{"field":"l","type":"quantitative"},"y2":{"field":"h"}}},
  {"data":{"name":"mean"},"transform":[{"filter":"datum.p=='c16'&&datum.w=='750g'"}],"mark":{"type":"line","color":"black","strokeWidth":3.5},"encoding":{"x":{"field":"t","type":"quantitative"},"y":{"field":"m","type":"quantitative"}}},
  {"data":{"name":"band"},"transform":[{"filter":"datum.p=='c16'&&datum.w=='1kg'"}],"mark":{"type":"area","fill":"#5fa2d2","fillOpacity":0.6,"stroke":"#2a7ab8","strokeWidth":1},"encoding":{"x":{"field":"t","type":"quantitative"},"y":{"field":"l","type":"quantitative"},"y2":{"field":"h"}}},
  {"data":{"name":"mean"},"transform":[{"filter":"datum.p=='c16'&&datum.w=='1kg'"}],"mark":{"type":"line","color":"black","strokeWidth":3.5},"encoding":{"x":{"field":"t","type":"quantitative"},"y":{"field":"m","type":"quantitative"}}}
 ]},
{"width":411,"height":310,"title":{"text":"168 Channels","offset":0},
 "layer":[
  {"data":{"name":"tgt"},"mark":{"type":"rect","fill":"#c9c9c9","stroke":"#747474","strokeWidth":1.2},"encoding":{"y":{"field":"l","type":"quantitative","scale":{"domain":[5.2,25.5],"nice":false,"zero":false},"axis":{"title":null,"labels":false,"values":[10,15,20,25]}},"y2":{"field":"h"}}},
  {"data":{"name":"tgt"},"mark":{"type":"rule","color":"#4d4d4d","strokeWidth":4.5},"encoding":{"y":{"field":"m","type":"quantitative"}}},
  {"data":{"name":"band"},"transform":[{"filter":"datum.p=='c168'&&datum.w=='250g'"}],"mark":{"type":"area","fill":"#6e2682","fillOpacity":0.6,"stroke":"#c2399b","strokeWidth":1},"encoding":{"x":{"field":"t","type":"quantitative","scale":{"domain":[0,750],"nice":false},"axis":{"title":"TW Length (ms)","values":[0,200,400,600]}},"y":{"field":"l","type":"quantitative"},"y2":{"field":"h"}}},
  {"data":{"name":"mean"},"transform":[{"filter":"datum.p=='c168'&&datum.w=='250g'"}],"mark":{"type":"line","color":"black","strokeWidth":3.5},"encoding":{"x":{"field":"t","type":"quantitative"},"y":{"field":"m","type":"quantitative"}}},
  {"data":{"name":"band"},"transform":[{"filter":"datum.p=='c168'&&datum.w=='500g'"}],"mark":{"type":"area","fill":"#11a061","fillOpacity":0.6,"stroke":"#1b8f4f","strokeWidth":1},"encoding":{"x":{"field":"t","type":"quantitative"},"y":{"field":"l","type":"quantitative"},"y2":{"field":"h"}}},
  {"data":{"name":"mean"},"transform":[{"filter":"datum.p=='c168'&&datum.w=='500g'"}],"mark":{"type":"line","color":"black","strokeWidth":3.5},"encoding":{"x":{"field":"t","type":"quantitative"},"y":{"field":"m","type":"quantitative"}}},
  {"data":{"name":"band"},"transform":[{"filter":"datum.p=='c168'&&datum.w=='750g'"}],"mark":{"type":"area","fill":"#f7cf25","fillOpacity":0.6,"stroke":"#f5852a","strokeWidth":1},"encoding":{"x":{"field":"t","type":"quantitative"},"y":{"field":"l","type":"quantitative"},"y2":{"field":"h"}}},
  {"data":{"name":"mean"},"transform":[{"filter":"datum.p=='c168'&&datum.w=='750g'"}],"mark":{"type":"line","color":"black","strokeWidth":3.5},"encoding":{"x":{"field":"t","type":"quantitative"},"y":{"field":"m","type":"quantitative"}}},
  {"data":{"name":"band"},"transform":[{"filter":"datum.p=='c168'&&datum.w=='1kg'"}],"mark":{"type":"area","fill":"#5fa2d2","fillOpacity":0.6,"stroke":"#2a7ab8","strokeWidth":1},"encoding":{"x":{"field":"t","type":"quantitative"},"y":{"field":"l","type":"quantitative"},"y2":{"field":"h"}}},
  {"data":{"name":"mean"},"transform":[{"filter":"datum.p=='c168'&&datum.w=='1kg'"}],"mark":{"type":"line","color":"black","strokeWidth":3.5},"encoding":{"x":{"field":"t","type":"quantitative"},"y":{"field":"m","type":"quantitative"}}}
 ]}
], "spacing": 18}
], "spacing": 23}
], "spacing": 8},
{"width": 1000, "height": 1,
 "data": {"values": []},
 "mark": "point",
 "encoding": {},
 "title": {"text": "Figure 5.", "subtitle": ["\u200b\u00a0\u00a0\u00a0\u00a0\u00a0\u00a0\u00a0\u00a0\u00a0\u00a0\u00a0\u00a0\u00a0\u00a0\u00a0\u00a0\u00a0\u00a0Representative results of the GF prediction. The grey lines correspond to the target GFs while the blue, yellow, green", "and purple traces correspond to the predicted GFs from the test set of one participant for the 250, 500, 750 and 1000\u2009g, respectively", "(Fix-Ridge reduction method). The predicted GF is reported for each TW length, which ranged from the moment of the GF onset (1", "sample) until 750\u2009ms after it (75 samples)."],
  "anchor": "start", "frame": "group", "orient": "top", "dx": -52, "offset": 0,
  "font": "Liberation Serif", "fontSize": 18, "fontWeight": "bold", "color": "#231f20",
  "subtitleFont": "Liberation Serif", "subtitleFontSize": 18, "subtitleFontWeight": "normal", "subtitleColor": "#231f20", "subtitleLineHeight": 24, "subtitlePadding": -18}}
],
"spacing": 53,
"config": {
 "view": {"stroke": null},
 "font": "Liberation Sans",
 "axis": {"grid": false, "domainColor": "#262626", "domainWidth": 1.6, "tickColor": "#262626", "tickWidth": 1.2, "tickSize": -7, "labelFont": "Liberation Sans", "labelFontSize": 25, "labelColor": "#262626", "labelPadding": 14, "titleFont": "Liberation Sans", "titleFontSize": 31, "titleFontWeight": "normal", "titleColor": "#262626", "minExtent": 0},
 "axisX": {"titlePadding": 2},
 "axisY": {"titlePadding": 6},
 "title": {"font": "Liberation Sans", "fontSize": 29, "fontWeight": "normal", "color": "#000000", "frame": "group"}
}
}
